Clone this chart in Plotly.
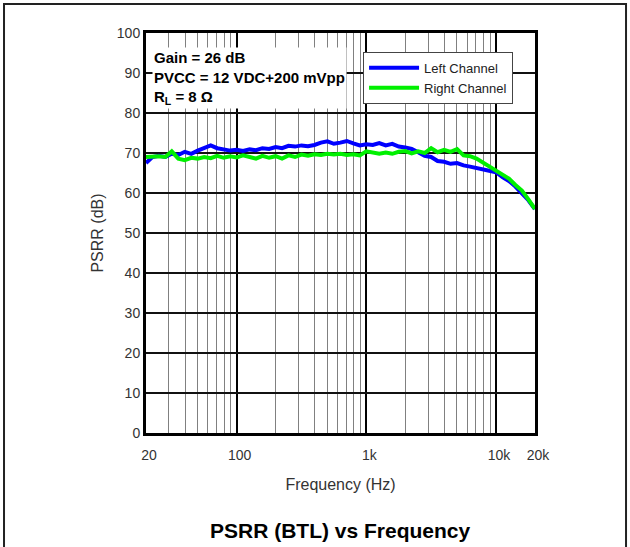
import plotly.graph_objects as go

# frequency points (Hz)
freq = [20, 22.4, 25.1, 28.2, 31.6, 35.5, 39.8, 44.7, 50.1, 56.2, 63.1, 70.8, 79.4, 89.1,
        100, 112, 126, 141, 158, 178, 200, 224, 251, 282, 316, 355, 398, 447, 501, 562, 631,
        708, 794, 891, 1000, 1122, 1259, 1413, 1585, 1778, 1995, 2239, 2512, 2818, 3162,
        3548, 3981, 4467, 5012, 5623, 6310, 7079, 7943, 8913, 10000, 11220, 12589, 14125,
        15849, 17783, 19953]

left_db = [67.5, 69.0, 69.3, 69.0, 69.8, 69.5, 70.3, 69.8, 70.6, 71.2, 71.9, 71.2, 70.9, 70.6,
           70.8, 70.5, 70.9, 70.7, 71.2, 71.0, 71.5, 71.2, 71.8, 71.6, 71.9, 71.7, 72.0, 72.6,
           72.9, 72.3, 72.6, 73.0, 72.4, 71.9, 72.2, 72.0, 72.5, 71.9, 72.3, 71.6, 71.4, 71.0,
           70.2, 69.3, 69.0, 68.0, 67.8, 67.3, 67.5, 66.9, 66.6, 66.2, 65.8, 65.4, 65.2, 64.0,
           63.0, 61.6, 60.0, 58.2, 56.0]

right_db = [69.0, 69.1, 69.2, 69.0, 70.4, 68.6, 68.2, 68.8, 68.6, 69.0, 68.7, 69.3, 68.8, 69.2,
            68.9, 69.4, 69.0, 68.6, 69.3, 68.8, 69.2, 68.6, 69.4, 69.0, 69.6, 69.3, 69.7, 69.5,
            69.8, 69.6, 69.8, 69.5, 69.7, 69.4, 70.4, 70.2, 69.8, 70.1, 69.8, 70.3, 70.5, 69.9,
            70.4, 70.0, 71.2, 70.2, 70.8, 70.3, 71.0, 69.4, 69.2, 68.6, 67.6, 66.4, 65.6, 64.6,
            63.6, 62.0, 60.6, 58.4, 56.0]

x_ticks = [20, 100, 1000, 10000, 20000]
x_labels = ['20', '100', '1k', '10k', '20k']
x_minor = [30, 40, 50, 60, 70, 80, 90, 200, 300, 400, 500, 600, 700, 800, 900,
           2000, 3000, 4000, 5000, 6000, 7000, 8000, 9000]

FONT = 'Liberation Sans, Arial, sans-serif'

fig = go.Figure()
fig.add_trace(go.Scatter(x=freq, y=left_db, mode='lines', name='Left Channel',
                         line=dict(color='#0000ff', width=4)))
fig.add_trace(go.Scatter(x=freq, y=right_db, mode='lines', name='Right Channel',
                         line=dict(color='#00f000', width=4)))

fig.update_layout(
    width=630, height=547,
    margin=dict(l=146, r=95, t=33, b=114),
    paper_bgcolor='white', plot_bgcolor='white',
    font=dict(family=FONT, color='#222'),
    legend=dict(x=0.558, y=0.953, xanchor='left', yanchor='top',
                bgcolor='white', bordercolor='#444', borderwidth=1, itemwidth=50,
                font=dict(size=13, color='#222'), tracegroupgap=0),
    xaxis=dict(type='log', range=[1.30103, 4.30103],
               tickvals=x_ticks, ticktext=x_labels, ticks='',
               tickfont=dict(size=14, color='#333'), ticklabelshift=3, ticklabelstandoff=7,
               showgrid=True, gridcolor='black', gridwidth=2,
               minor=dict(tickvals=x_minor, showgrid=True, gridcolor='#808080', gridwidth=1, ticks=''),
               showline=True, linecolor='black', linewidth=3, mirror=True,
               title=dict(text='Frequency (Hz)', font=dict(size=16, color='#333'), standoff=18),
               zeroline=False),
    yaxis=dict(range=[0, 100], dtick=10, ticks='',
               tickfont=dict(size=14, color='#333'),
               showgrid=True, gridcolor='#111', gridwidth=2,
               showline=True, linecolor='black', linewidth=3, mirror=True,
               title=dict(text='PSRR (dB)', font=dict(size=16, color='#333'), standoff=10),
               zeroline=False),
)

fig.add_annotation(
    xref='paper', yref='paper', x=0.015, y=0.965, xanchor='left', yanchor='top',
    text='<b>Gain = 26 dB<br>PVCC = 12 VDC+200 mVpp<br>R<sub>L</sub> = 8 Ω</b>',
    showarrow=False, align='left', bgcolor='white',
    font=dict(size=15, color='black'),
)

fig.add_annotation(
    xref='paper', yref='paper', x=0.5, y=-0.2425, xanchor='center', yanchor='middle',
    text='<b>PSRR (BTL) vs Frequency</b>', showarrow=False,
    font=dict(size=21, color='black'),
)

# outer frame
fig.add_shape(type='rect', xref='paper', yref='paper',
              x0=-0.365, x1=1.234, y0=-0.4, y1=1.0725,
              line=dict(color='#222', width=2), layer='below')

fig.write_html('out.html', config={'displayModeBar': False},
               post_script="document.body.style.margin='0px';")
